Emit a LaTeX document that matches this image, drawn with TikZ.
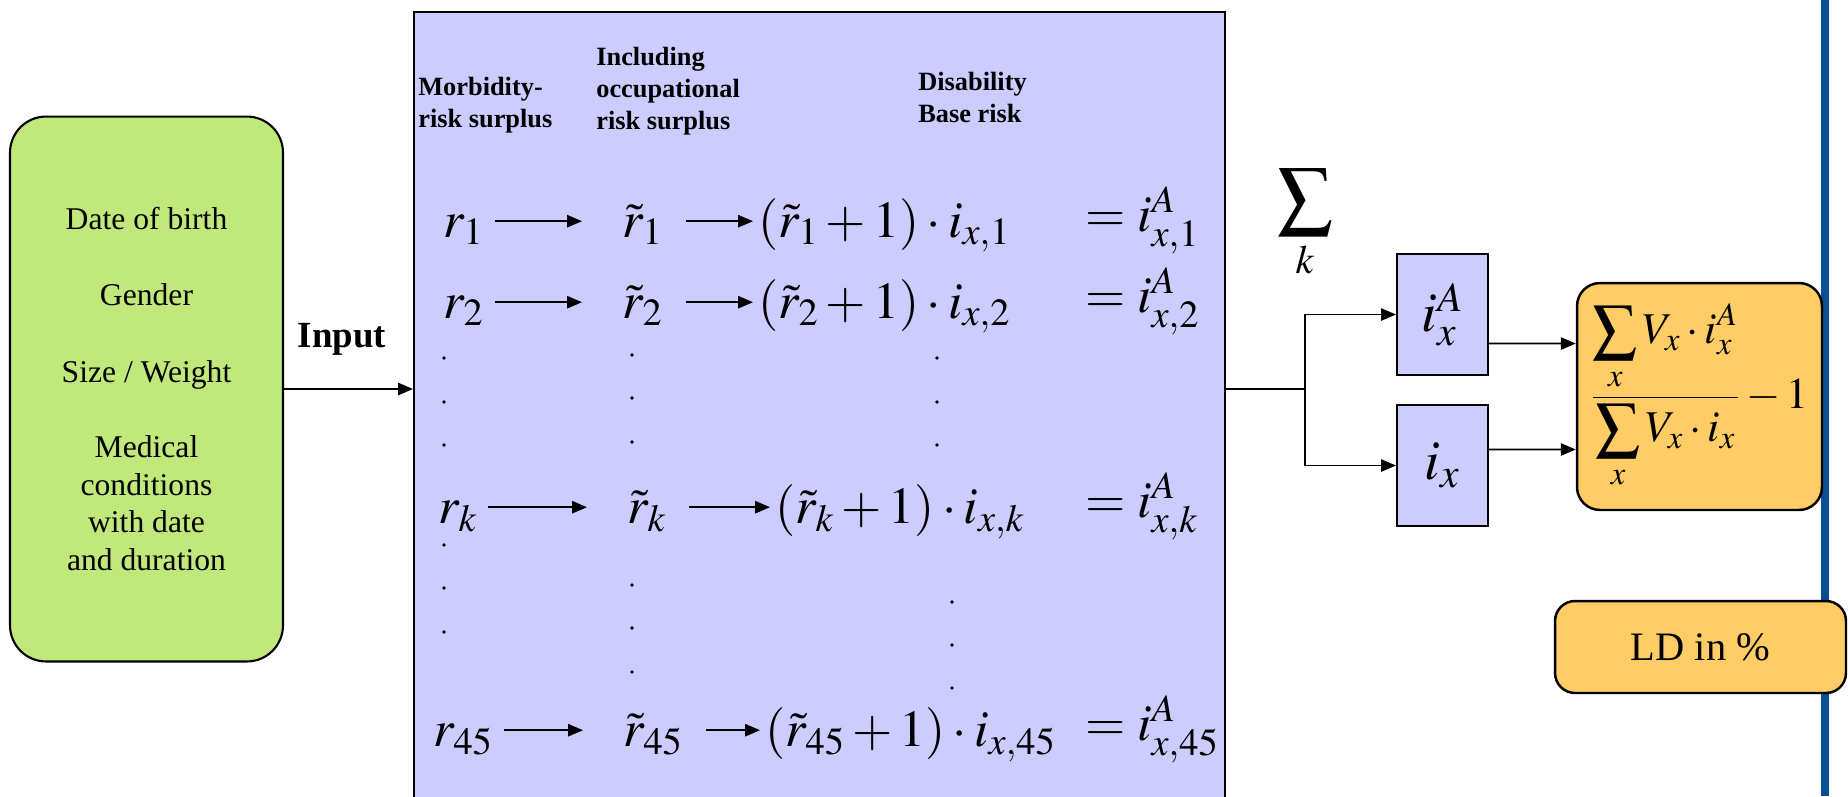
\documentclass[tikz,border=0pt]{standalone}
\usepackage{amsmath}
\usepackage{mathptmx}
\usepackage{fontspec}
\setmainfont{Liberation Serif}
\usetikzlibrary{arrows.meta}
\definecolor{limefill}{RGB}{192,232,122}
\definecolor{lavender}{RGB}{204,204,255}
\definecolor{apricot}{RGB}{255,204,102}
\definecolor{ruleblue}{RGB}{10,79,148}

\tikzset{
  flowarrow/.style={line width=1pt,-{Triangle[length=8.5pt,width=7pt]}},
  calcbox/.style={draw,line width=1.2pt,fill=lavender,inner sep=0pt},
  resultbox/.style={draw,line width=1.4pt,fill=apricot,rounded corners=0.46cm,inner sep=0pt},
  headtext/.style={anchor=north west,inner sep=0pt,align=left,font=\rmfamily\bfseries\fontsize{15}{18.2}\selectfont},
  mathnode/.style={anchor=base west,inner sep=0pt,text height=24pt,text depth=6pt,font=\fontsize{29.5}{34}\selectfont},
}

\begin{document}
\begin{tikzpicture}[x=0.02cm,y=-0.02cm]
  \useasboundingbox (0,0) rectangle (1848,796);

  % --- right margin rule ---
  \fill[ruleblue] (1821,0) rectangle (1829,796);

  % --- input data ---
  \node[draw,line width=1.2pt,fill=limefill,rounded corners=0.72cm,
        minimum width=5.46cm,minimum height=10.9cm,align=center,
        font=\rmfamily\fontsize{18}{21.6}\selectfont] (info) at (146.5,389)
    {Date of birth\\[22pt] Gender\\[22pt] Size / Weight\\[21pt]
     Medical\\ conditions\\ with date\\ and duration};
  \node[anchor=base,font=\rmfamily\bfseries\fontsize{21}{25}\selectfont] (inlabel) at (342,347) {Input};

  % --- risk calculation ---
  \node[calcbox,minimum width=16.22cm,minimum height=16.36cm] (riskbox) at (819.5,421) {};
  \draw[flowarrow] (info.east) -- (info.east -| riskbox.west);

  \node[headtext] (morbhead) at (418,77) {Morbidity-\\risk surplus};
  \node[headtext] (occuhead) at (596,47) {Including\\occupational\\risk surplus};
  \node[headtext] (basehead) at (918,72) {Disability\\Base risk};

  % rows: index / baseline / r / tilde r / product
  \foreach \n/\y/\xa/\xb/\xc in {1/237/443/622/758, 2/318/443/622/758,
                                 k/523/438/627/775, 45/746/433/623/765}{
    \node[mathnode] (r\n) at (\xa,\y) {$r_{\n}$};
    \node[mathnode] (rt\n) at (\xb,\y) {$\tilde{r}_{\n}$};
    \node[mathnode] (f\n) at (\xc,\y) {$(\tilde{r}_{\n}+1)\cdot i_{x,\n}$};
    \node[mathnode] (e\n) at (1085,\y-6) {$=i^{A}_{x,\n}$};
    \draw[flowarrow,shorten <=0.22cm,shorten >=0.8cm] (r\n) -- (rt\n);
    \draw[flowarrow,shorten <=0.46cm,shorten >=0.1cm] (rt\n) -- (f\n);
  }

  % vertical dots
  \foreach \x/\y in {444/358, 444/402, 444/445, 632/355, 632/398, 632/442,
                     937/358, 937/402, 937/445, 444/545, 444/588, 444/632,
                     632/585, 632/628, 632/672, 952/602, 952/645, 952/688}{
    \fill (\x,\y) circle (1.1pt);
  }

  % --- aggregation ---
  \node[inner sep=0pt,font=\fontsize{31}{36}\selectfont] (sumk) at (1305,224) {$\displaystyle\sum_{k}$};
  \coordinate (split) at (1305,389);
  \node[calcbox,minimum width=1.82cm,minimum height=2.42cm,font=\fontsize{32}{38}\selectfont]
    (iA) at (1442.5,314.5) {$i_x^{A}$};
  \node[calcbox,minimum width=1.82cm,minimum height=2.42cm,font=\fontsize{32}{38}\selectfont]
    (ix) at (1442.5,465.5) {$i_x$};
  \draw[line width=1pt] (riskbox.east |- split) -- (split);
  \draw[flowarrow] (split) |- (iA);
  \draw[flowarrow] (split) |- (ix);

  % --- result ---
  \node[resultbox,minimum width=4.9cm,minimum height=4.54cm,font=\fontsize{25}{30}\selectfont]
    (ratio) at (1699.5,396.5)
    {$\dfrac{\displaystyle\sum_{x} V_x\cdot i_x^{A}}{\displaystyle\sum_{x} V_x\cdot i_x}-1$};
  \draw[flowarrow] ([yshift=-0.58cm]iA.east) -- ([yshift=1.06cm]ratio.west);
  \draw[flowarrow] ([yshift=0.32cm]ix.east) -- ([yshift=-1.06cm]ratio.west);

  \node[resultbox,rounded corners=0.4cm,minimum width=5.82cm,minimum height=1.84cm,
        font=\rmfamily\fontsize{23}{28}\selectfont] (ld) at (1700.5,647) {LD in \%};
\end{tikzpicture}
\end{document}
